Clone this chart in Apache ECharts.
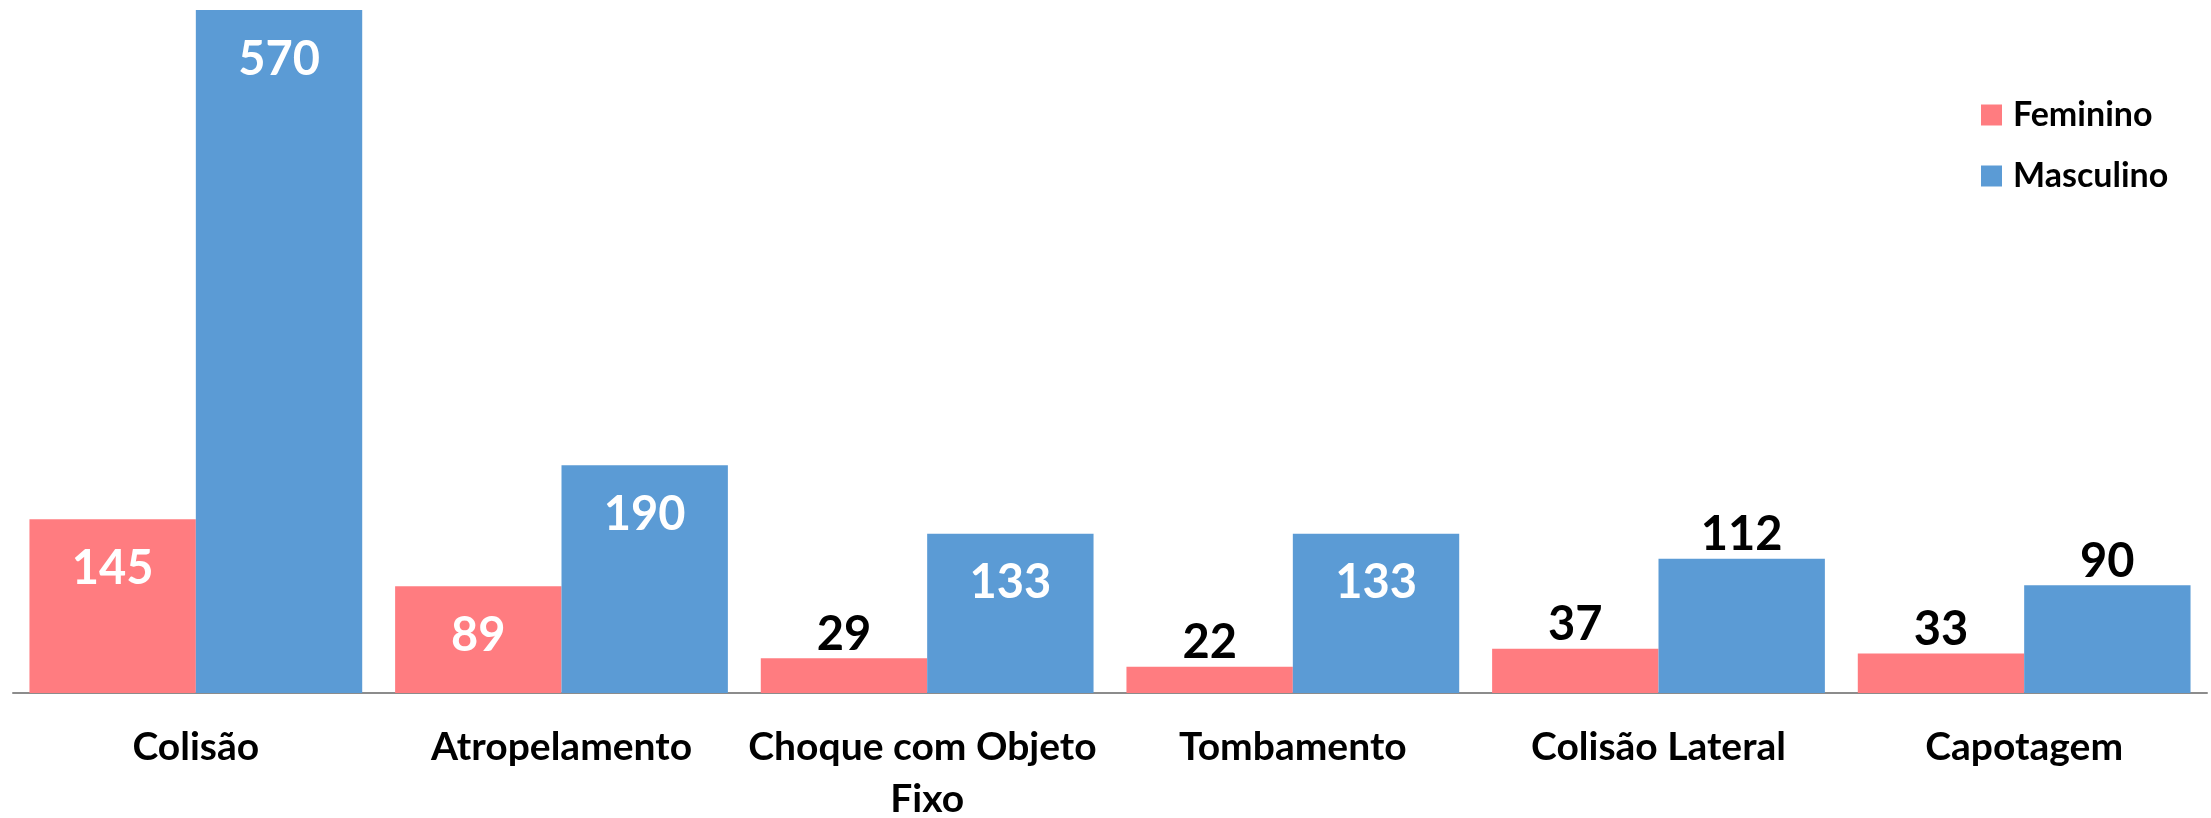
<!DOCTYPE html>
<html>
<head>
<meta charset="utf-8">
<script src="https://cdn.jsdelivr.net/npm/echarts@6/dist/echarts.min.js"></script>
<style>
	html, body { margin: 0; padding: 0; background: #fff; }
	#chart { width: 2211px; height: 818px; }
</style>
</head>
<body>
<div id="chart"></div>
<script>
	// dados
	var categorias = ['Colisão', 'Atropelamento', 'Choque com Objeto Fixo', 'Tombamento', 'Colisão Lateral', 'Capotagem'];
	var feminino = [145, 89, 29, 22, 37, 33];
	var masculino = [570, 190, 133, 133, 112, 90];
	// rótulo dentro da barra (branco) ou acima (preto)
	var femDentro = [true, true, false, false, false, false];
	var mascDentro = [true, true, true, true, false, false];

	var fonte = 'Lato, "Open Sans", sans-serif';

	function montar(valores, dentro) {
		return valores.map(function (v, i) {
			return {
				value: v,
				label: dentro[i]
					? { position: 'insideTop', distance: 26, color: '#fff' }
					: { position: 'top', distance: 0, color: '#000' }
			};
		});
	}

	var chart = echarts.init(document.getElementById('chart'));
	chart.setOption({
		animation: false,
		grid: { left: 13, right: 4, top: 10, bottom: 125, containLabel: false, outerBoundsMode: 'none' },
		legend: {
			orient: 'vertical',
			left: 1976,
			top: 90,
			itemWidth: 21,
			itemHeight: 21,
			itemGap: 21,
			icon: 'rect',
			textStyle: { fontFamily: fonte, fontWeight: 'bold', fontSize: 34, lineHeight: 40, color: '#000', padding: [0, 0, 0, 6] },
			data: ['Feminino', 'Masculino']
		},
		xAxis: {
			type: 'category',
			data: categorias,
			axisLine: { lineStyle: { color: '#8c8c8c', width: 2 } },
			axisTick: { show: false },
			axisLabel: {
				interval: 0,
				margin: 28,
				width: 362,
				overflow: 'break',
				lineHeight: 52,
				fontFamily: fonte,
				fontWeight: 'bold',
				fontSize: 39,
				color: '#000'
			}
		},
		yAxis: {
			type: 'value',
			min: 0,
			max: 570,
			show: false,
			splitLine: { show: false }
		},
		series: [{
			name: 'Feminino',
			type: 'bar',
			barGap: '0%',
			barCategoryGap: '9%',
			itemStyle: { color: '#FF7C80' },
			label: { show: true, fontFamily: fonte, fontWeight: 'bold', fontSize: 47 },
			data: montar(feminino, femDentro)
		}, {
			name: 'Masculino',
			type: 'bar',
			itemStyle: { color: '#5B9BD5' },
			label: { show: true, fontFamily: fonte, fontWeight: 'bold', fontSize: 47 },
			data: montar(masculino, mascDentro)
		}]
	});
</script>
</body>
</html>
